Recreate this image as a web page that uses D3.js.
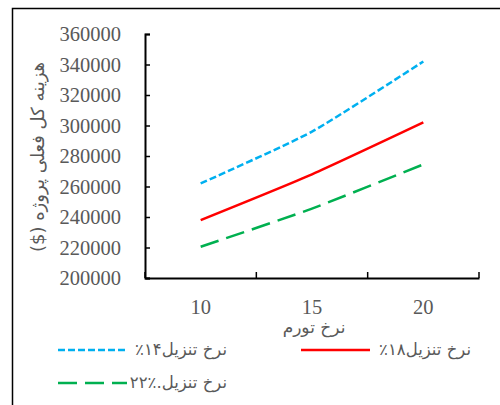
<!DOCTYPE html>
<html><head><meta charset="utf-8">
<script src="https://cdn.jsdelivr.net/npm/d3@7"></script>
<style>body{margin:0;background:#fff}svg{display:block}</style>
</head><body>
<script>
const categories = ["10", "15", "20"];
const yTicks = [200000, 220000, 240000, 260000, 280000, 300000, 320000, 340000, 360000];
const series14 = [262000, 296000, 342000];
const series18 = [238000, 268000, 302000];
const series22 = [220500, 245500, 274500];
const seriesNames = ["نرخ تنزیل۱۴٪", "نرخ تنزیل۱۸٪", "نرخ تنزیل.٪۲۲"];
const yTitle = "هزینه کل فعلی پروژه ($)";
const xTitle = "نرخ تورم";

const W = 500, H = 405;
const svg = d3.select("body").append("svg").attr("width", W).attr("height", H);
svg.append("rect").attr("x", 12.5).attr("y", 8.5).attr("width", 520).attr("height", 420)
  .attr("fill", "none").attr("stroke", "#000").attr("stroke-width", 1.5);

const x = d3.scaleBand().domain(categories).range([145, 479]);
const y = d3.scaleLinear().domain([200000, 360000]).range([278, 34]);
const textCol = "#595959";

// y axis
const ya = svg.append("g").attr("transform", "translate(145,0)")
  .call(d3.axisLeft(y).tickValues(yTicks).tickSize(-5).tickPadding(24).tickFormat(d3.format("d")));
ya.select(".domain").attr("stroke", "#000").attr("stroke-width", 2);
ya.selectAll(".tick line").attr("stroke", "#000").attr("stroke-width", 1.5);
ya.selectAll("text").attr("font-family", "Liberation Serif").attr("font-size", 20.5).attr("fill", textCol);

// x axis
const xa = svg.append("g").attr("transform", "translate(0,278)")
  .call(d3.axisBottom(x).tickSize(0).tickPadding(21));
xa.select(".domain").attr("stroke", "#000").attr("stroke-width", 2);
xa.selectAll("text").attr("font-family", "Liberation Serif").attr("font-size", 20.5).attr("fill", textCol);
const bounds = categories.map(c => x(c)).concat([x.range()[1]]);
svg.append("g").selectAll("line").data(bounds).join("line")
  .attr("x1", d => d).attr("x2", d => d).attr("y1", 278).attr("y2", 272)
  .attr("stroke", "#000").attr("stroke-width", 1.5);

const line = d3.line().x((d, i) => x(categories[i]) + x.bandwidth() / 2).y(d => y(d)).curve(d3.curveCardinal.tension(0.4));
const styles = [
  {data: series14, color: "#00B0F0", dash: "7,3"},
  {data: series18, color: "#FF0000", dash: null},
  {data: series22, color: "#00B050", dash: "19,8"}
];
styles.forEach(s => {
  svg.append("path").attr("d", line(s.data)).attr("fill", "none")
    .attr("stroke", s.color).attr("stroke-width", 2.5).attr("stroke-dasharray", s.dash);
});

// titles
svg.append("text").attr("transform", "translate(44,157) rotate(-90)")
  .attr("text-anchor", "middle").attr("direction", "rtl").style("unicode-bidi", "embed")
  .attr("font-family", "DejaVu Sans").attr("font-size", 18).attr("fill", textCol).text(yTitle);
svg.append("text").attr("x", 314).attr("y", 333).attr("text-anchor", "middle")
  .attr("direction", "rtl").style("unicode-bidi", "embed")
  .attr("font-family", "DejaVu Sans").attr("font-size", 17).attr("fill", textCol).text(xTitle);

// legend
const leg = [
  {x1: 58, x2: 127, y: 350, tx: 227, i: 0},
  {x1: 301, x2: 370, y: 350, tx: 471, i: 1},
  {x1: 58, x2: 127, y: 383, tx: 227, i: 2}
];
leg.forEach(l => {
  const s = styles[l.i];
  svg.append("line").attr("x1", l.x1).attr("x2", l.x2).attr("y1", l.y).attr("y2", l.y)
    .attr("stroke", s.color).attr("stroke-width", 2.5).attr("stroke-dasharray", s.dash);
  svg.append("text").attr("x", l.tx).attr("y", l.y + 5).attr("text-anchor", "start")
    .attr("direction", "rtl").style("unicode-bidi", "embed")
    .attr("font-family", "DejaVu Sans").attr("font-size", 16.5).attr("fill", textCol).text(seriesNames[l.i]);
});
</script>
</body></html>
